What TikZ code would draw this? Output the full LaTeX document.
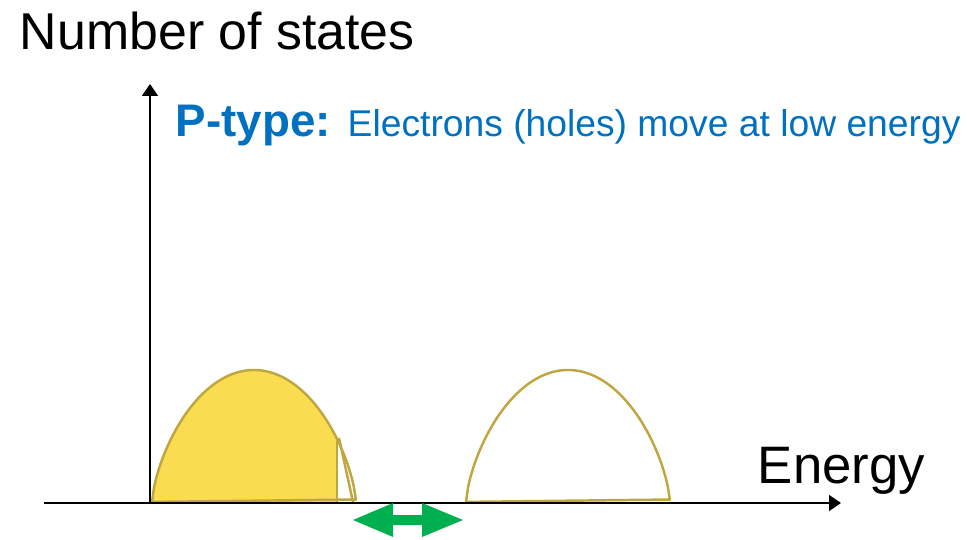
\documentclass[tikz,border=0pt]{standalone}
\usepackage{fontspec}
\setmainfont{Liberation Sans}
\usetikzlibrary{arrows.meta,positioning}

\definecolor{bandfill}{RGB}{249,220,80}
\definecolor{bandline}{RGB}{190,166,64}
\definecolor{ptblue}{RGB}{0,112,192}
\definecolor{gapgreen}{RGB}{0,176,80}

\tikzset{every picture/.style={line width=1.1pt}}
\tikzset{
  axis/.style={draw=black, line width=1.1pt, -{Triangle[length=6.8pt,width=9pt]}},
  band/.style={draw=bandline, line width=1.4pt, line join=round},
  label/.style={anchor=base west, inner sep=0pt, text=black}
}
% density of states profile, u in [-1,1]
\newcommand{\dosheight}[1]{132*(max(1-(#1)*(#1),0.00001))^0.68}

\begin{document}
\begin{tikzpicture}[x=0.02cm, y=-0.02cm]
    \useasboundingbox (0,0) rectangle (967,540);

    \coordinate (xleft) at (44,503);
    \coordinate (xright) at (841,503);
    \coordinate (ybot) at (150,503);
    \coordinate (ytop) at (150,84);

    % valence band, filled up to the Fermi level
    \fill[bandfill] plot[domain=-1:0.814, samples=80] ({254+102*\x}, {502-\dosheight{\x}}) -- (337,502) -- cycle;
    \draw[band] plot[domain=-1:1, samples=100] ({254+102*\x}, {502-\dosheight{\x}}) -- cycle;
    \draw[band] (337,502) -- (337,437);
    \draw[band] (339,438) -- (353,502);

    % conduction band, empty
    \draw[band] plot[domain=-1:1, samples=100] ({568+102*\x}, {502-\dosheight{\x}}) -- cycle;

    \draw[axis] (xleft) -- (xright);
    \draw[axis] (ybot) -- (ytop);

    % band gap
    \fill[gapgreen] (353,520) -- (393,503) -- (393,515) -- (422,515) -- (422,503) -- (463,520)
        -- (422,537) -- (422,525) -- (393,525) -- (393,537) -- cycle;

    \node[label, font=\fontsize{29.5pt}{34pt}\selectfont] (ylabel) at (19,50) {Number of states};
    \node[label, font=\fontsize{30pt}{34pt}\selectfont] (xlabel) at (757,483) {Energy};
    \node[label, text=ptblue, font=\fontsize{26pt}{30pt}\selectfont\bfseries] (ptype) at (175,137) {P-type:};
    \node[label, text=ptblue, font=\fontsize{21.2pt}{25pt}\selectfont, anchor=base west]
        (ptdesc) at ([xshift=0.3cm]ptype.base east) {Electrons (holes) move at low energy};
\end{tikzpicture}
\end{document}
